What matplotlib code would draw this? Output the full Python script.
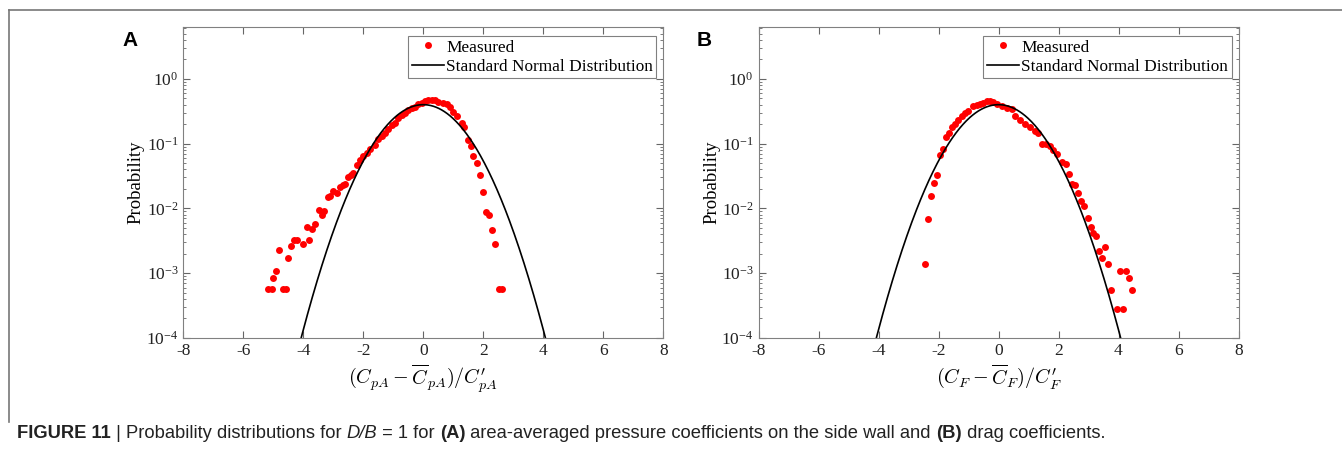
"""
Figura 11 — distribuições de probabilidade (D/B = 1)
(A) coeficiente de pressão médio na parede lateral, (B) coeficiente de arrasto
"""
import numpy as np
import matplotlib.pyplot as plt
from matplotlib.lines import Line2D

plt.rcParams.update({
    "font.family": "serif",
    "font.serif": ["Liberation Serif", "DejaVu Serif"],
    "mathtext.fontset": "stix",
    "axes.unicode_minus": False,
    "font.size": 12,
})

# %% dados
# (A) pressão média na parede lateral
xa = [-5.18, -5.04, -5.01, -4.91, -4.81, -4.68, -4.58, -4.51, -4.40, -4.31,
      -4.21, -4.01, -3.88, -3.81, -3.71, -3.61, -3.48, -3.38, -3.31, -3.18,
      -3.11, -3.01, -2.88, -2.78, -2.68, -2.61, -2.51, -2.41, -2.34, -2.21,
      -2.11, -2.01, -1.88, -1.78, -1.61, -1.51, -1.38, -1.28, -1.18, -1.04,
      -0.94, -0.84, -0.71, -0.61, -0.51, -0.38, -0.28, -0.18, -0.04, 0.06,
      0.16, 0.29, 0.39, 0.49, 0.66, 0.79, 0.89, 0.99, 1.12, 1.29,
      1.36, 1.49, 1.59, 1.66, 1.79, 1.89, 1.99, 2.09, 2.19, 2.29,
      2.39, 2.52, 2.62]
pa = [5.8e-4, 5.8e-4, 8.5e-4, 1.1e-3, 2.3e-3, 5.8e-4, 5.8e-4, 1.7e-3, 2.6e-3, 3.2e-3,
      3.2e-3, 2.8e-3, 5.2e-3, 3.2e-3, 4.8e-3, 5.8e-3, 9.5e-3, 7.9e-3, 9.1e-3, 0.0151,
      0.0155, 0.0186, 0.0174, 0.0214, 0.0229, 0.0240, 0.0302, 0.0331, 0.0355, 0.0468,
      0.0562, 0.0646, 0.0708, 0.0832, 0.0955, 0.117, 0.132, 0.145, 0.166, 0.191,
      0.209, 0.245, 0.275, 0.295, 0.331, 0.355, 0.363, 0.407, 0.417, 0.447,
      0.468, 0.479, 0.468, 0.437, 0.417, 0.407, 0.363, 0.302, 0.263, 0.209,
      0.178, 0.112, 0.0912, 0.0646, 0.0501, 0.0331, 0.0178, 0.0089, 0.0079, 0.0047,
      0.0028, 5.8e-4, 5.8e-4]

# (B) arrasto
xb = [-2.45, -2.35, -2.25, -2.15, -2.05, -1.94, -1.86, -1.75, -1.64, -1.55,
      -1.45, -1.34, -1.23, -1.12, -1.01, -0.84, -0.73, -0.62, -0.51, -0.39,
      -0.28, -0.17, -0.06, 0.11, 0.27, 0.44, 0.55, 0.72, 0.88, 1.05,
      1.22, 1.33, 1.44, 1.58, 1.72, 1.83, 1.96, 2.11, 2.25, 2.36,
      2.46, 2.55, 2.66, 2.76, 2.86, 2.97, 3.07, 3.16, 3.26, 3.36,
      3.46, 3.56, 3.66, 3.76, 3.95, 4.05, 4.16, 4.25, 4.36, 4.46]
pb = [1.4e-3, 6.8e-3, 0.0158, 0.0245, 0.0331, 0.0661, 0.0832, 0.126, 0.148, 0.178,
      0.204, 0.229, 0.263, 0.295, 0.316, 0.380, 0.389, 0.407, 0.417, 0.447,
      0.447, 0.437, 0.407, 0.380, 0.355, 0.339, 0.263, 0.229, 0.204, 0.182,
      0.158, 0.145, 0.100, 0.0977, 0.0912, 0.0794, 0.0692, 0.0525, 0.0479, 0.0339,
      0.0240, 0.0229, 0.0170, 0.0129, 0.0107, 0.0071, 0.0051, 0.0042, 0.0038, 0.0022,
      0.0017, 0.0025, 0.0014, 5.6e-4, 2.8e-4, 1.1e-3, 2.8e-4, 1.1e-3, 8.5e-4, 5.6e-4]

xticks = [-8, -6, -4, -2, 0, 2, 4, 6, 8]
xlabels = [r"$(C_{pA}-\overline{C}_{pA})/C_{pA}^{\prime}$",
           r"$(C_{F}-\overline{C}_{F})/C_{F}^{\prime}$"]

# curva normal padrão (teórica)
xn = np.linspace(-4.6, 4.6, 400)
pn = np.exp(-xn**2 / 2) / np.sqrt(2 * np.pi)

W, H = 1342, 455
fig = plt.figure(figsize=(W / 100, H / 100), dpi=100)

# moldura cinza do painel
fig.add_artist(Line2D([9 / W, 1], [1 - 10 / H, 1 - 10 / H], color="#777777", lw=1.2))
fig.add_artist(Line2D([9 / W, 9 / W], [1 - 10 / H, 1 - 422 / H], color="#777777", lw=1.2))

lefts = [183.3, 758.5]
axs = []
for i, (x, p) in enumerate([(xa, pa), (xb, pb)]):
    ax = fig.add_axes([lefts[i] / W, 1 - 338 / H, 480 / W, (338 - 27) / H])
    axs.append(ax)
    ax.plot(x, p, "o", color="red", markersize=5, markeredgewidth=0, label="Measured")
    ax.plot(xn, pn, "k-", linewidth=1.2, label="Standard Normal Distribution")
    ax.set_yscale("log")
    ax.set_xlim(-8, 8)
    ax.set_ylim(1e-4, 6.3)
    ax.set_yticks([1e-4, 1e-3, 1e-2, 1e-1, 1e0])
    ax.set_xticks(xticks)
    ax.tick_params(which="both", direction="in", top=True, right=True,
                   colors="#666666", labelcolor="#222222", labelsize=12.5)
    ax.tick_params(which="major", length=5)
    ax.tick_params(which="minor", length=2.5)
    for s in ax.spines.values():
        s.set_color("#808080")
        s.set_linewidth(0.8)
    ax.set_ylabel("Probability", fontsize=13.5, labelpad=1)
    ax.set_xlabel(xlabels[i], fontsize=14.5, math_fontfamily="cm", labelpad=3)
    leg = ax.legend(loc="upper right", bbox_to_anchor=(1 - 7 / 480, 1 - 9 / 311),
                    borderaxespad=0, numpoints=1, fancybox=False, fontsize=12.4,
                    handlelength=1.9, handletextpad=0.1, labelspacing=0.2,
                    borderpad=0.2, framealpha=1)
    leg.get_frame().set_edgecolor("#808080")
    leg.get_frame().set_linewidth(0.8)
    fig.text([130, 704][i] / W, 1 - 40 / H, "AB"[i], fontsize=15, fontweight="bold",
             family="Liberation Sans", ha="center", va="center")

# legenda da figura (texto em partes encadeadas)
partes = [("FIGURE 11", "bold", "normal"), (" | ", "normal", "normal"),
          ("Probability distributions for ", "normal", "normal"),
          ("D/B", "normal", "italic"), (" = 1 for ", "normal", "normal"),
          ("(A)", "bold", "normal"),
          (" area-averaged pressure coefficients on the side wall and ", "normal", "normal"),
          ("(B)", "bold", "normal"), (" drag coefficients.", "normal", "normal")]
prev = None
for txt, peso, estilo in partes:
    kw = dict(fontsize=13.2, family="Liberation Sans", fontweight=peso,
              fontstyle=estilo, color="#222222", va="bottom", ha="left")
    if prev is None:
        prev = fig.text(17 / W, 1 - 442 / H, txt, **kw)
    else:
        prev = axs[0].annotate(txt, xy=(1, 0), xycoords=prev,
                               annotation_clip=False, **kw)

fig.savefig("out.png", dpi=100)
